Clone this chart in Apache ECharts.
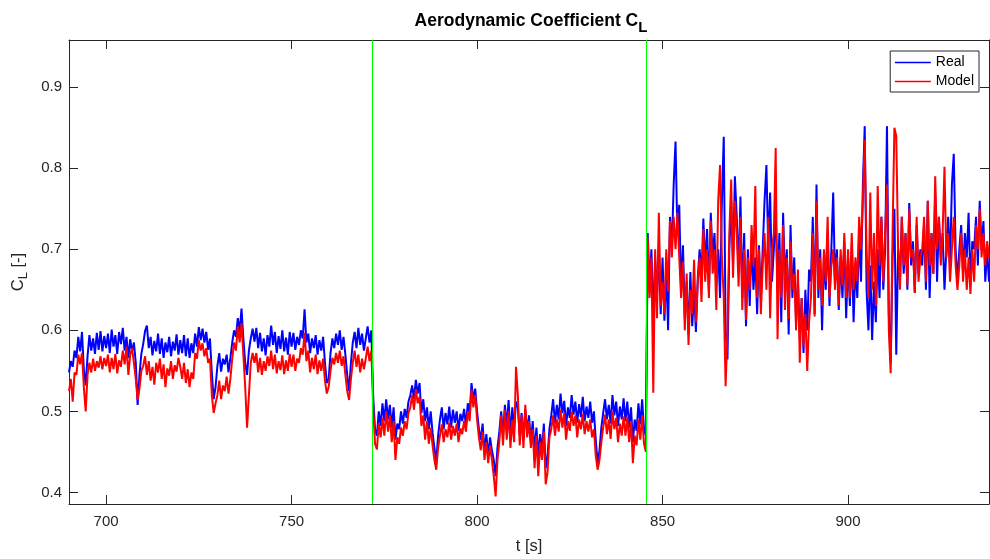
<!DOCTYPE html>
<html>
<head>
<meta charset="utf-8">
<title>Aerodynamic Coefficient CL</title>
<script src="https://cdn.jsdelivr.net/npm/echarts@6/dist/echarts.min.js"></script>
<style>
  html, body { margin: 0; padding: 0; background: #ffffff; }
  #chart { width: 990px; height: 559px; }
</style>
</head>
<body>
<div id="chart"></div>
<script>
  // samples every 0.5 s, starting at t = 690 s
  var tStart = 690
  var tStep = 0.5

  var realVals = [
    0.548,0.562,0.555,0.575,0.566,0.592,0.574,0.598,0.552,0.532,0.568,0.594,0.575,0.590,0.571,0.597,0.576,0.599,0.574,0.593,
    0.578,0.596,0.572,0.601,0.580,0.594,0.571,0.598,0.583,0.603,0.575,0.592,0.566,0.589,0.574,0.585,0.560,0.508,0.545,0.571,
    0.583,0.599,0.606,0.578,0.592,0.569,0.587,0.574,0.596,0.571,0.590,0.566,0.585,0.573,0.592,0.568,0.586,0.575,0.595,0.570,
    0.588,0.572,0.594,0.568,0.590,0.566,0.584,0.572,0.596,0.580,0.604,0.588,0.602,0.585,0.598,0.576,0.590,0.548,0.515,0.530,
    0.556,0.572,0.549,0.565,0.558,0.570,0.548,0.566,0.585,0.600,0.592,0.615,0.598,0.627,0.590,0.560,0.545,0.575,0.590,0.602,
    0.586,0.603,0.578,0.597,0.574,0.590,0.569,0.594,0.580,0.606,0.582,0.598,0.572,0.593,0.577,0.600,0.574,0.591,0.570,0.598,
    0.580,0.597,0.576,0.592,0.582,0.600,0.590,0.626,0.585,0.596,0.572,0.590,0.578,0.594,0.570,0.588,0.575,0.592,0.560,0.535,
    0.540,0.572,0.590,0.578,0.596,0.582,0.600,0.576,0.592,0.570,0.545,0.525,0.560,0.585,0.598,0.578,0.603,0.582,0.596,0.575,
    0.590,0.605,0.585,0.600,0.518,0.478,0.470,0.500,0.482,0.510,0.488,0.515,0.490,0.508,0.480,0.505,0.465,0.485,0.478,0.500,
    0.485,0.503,0.492,0.512,0.520,0.532,0.515,0.539,0.522,0.535,0.498,0.515,0.488,0.505,0.478,0.500,0.474,0.455,0.438,0.470,
    0.490,0.505,0.478,0.498,0.484,0.506,0.480,0.502,0.486,0.500,0.476,0.497,0.488,0.503,0.482,0.510,0.498,0.535,0.515,0.528,
    0.500,0.478,0.465,0.485,0.450,0.472,0.445,0.468,0.452,0.440,0.420,0.455,0.475,0.500,0.470,0.508,0.482,0.514,0.470,0.505,
    0.478,0.512,0.505,0.470,0.498,0.465,0.502,0.475,0.495,0.462,0.488,0.450,0.480,0.445,0.472,0.452,0.485,0.430,0.445,0.478,
    0.495,0.515,0.485,0.508,0.490,0.522,0.498,0.513,0.482,0.505,0.492,0.520,0.496,0.512,0.486,0.509,0.493,0.518,0.488,0.506,
    0.492,0.512,0.486,0.500,0.465,0.436,0.452,0.480,0.498,0.515,0.490,0.508,0.485,0.520,0.495,0.512,0.482,0.506,0.490,0.516,
    0.488,0.512,0.480,0.505,0.462,0.490,0.476,0.510,0.484,0.515,0.478,0.470,0.720,0.655,0.700,0.610,0.690,0.640,0.705,0.620,
    0.690,0.612,0.675,0.600,0.740,0.700,0.780,0.833,0.720,0.755,0.650,0.705,0.615,0.660,0.595,0.672,0.605,0.648,0.598,0.665,
    0.700,0.665,0.738,0.680,0.725,0.650,0.745,0.690,0.720,0.655,0.700,0.640,0.760,0.839,0.600,0.564,0.700,0.760,0.680,0.790,
    0.740,0.670,0.765,0.640,0.720,0.605,0.700,0.630,0.712,0.650,0.690,0.620,0.705,0.640,0.700,0.760,0.804,0.700,0.770,0.660,
    0.700,0.750,0.650,0.720,0.610,0.745,0.660,0.700,0.595,0.730,0.640,0.690,0.610,0.660,0.590,0.640,0.572,0.650,0.600,0.675,
    0.660,0.740,0.620,0.780,0.640,0.700,0.600,0.690,0.650,0.720,0.630,0.700,0.770,0.660,0.700,0.625,0.690,0.640,0.710,0.615,
    0.690,0.630,0.705,0.610,0.680,0.640,0.720,0.660,0.780,0.852,0.650,0.600,0.680,0.588,0.660,0.610,0.700,0.640,0.740,0.650,
    0.700,0.852,0.620,0.560,0.690,0.750,0.570,0.700,0.660,0.740,0.670,0.720,0.650,0.757,0.680,0.710,0.646,0.730,0.670,0.700,
    0.680,0.730,0.650,0.760,0.640,0.720,0.670,0.770,0.660,0.740,0.690,0.720,0.650,0.700,0.740,0.680,0.780,0.818,0.700,0.660,
    0.700,0.730,0.670,0.720,0.690,0.745,0.660,0.710,0.700,0.740,0.680,0.760,0.700,0.735,0.660,0.700,0.660
  ]

  var modelVals = [
    0.525,0.540,0.512,0.548,0.545,0.570,0.558,0.572,0.530,0.500,0.545,0.560,0.548,0.565,0.550,0.562,0.554,0.568,0.552,0.566,
    0.556,0.570,0.548,0.566,0.552,0.571,0.547,0.563,0.555,0.575,0.558,0.580,0.545,0.570,0.578,0.560,0.540,0.514,0.528,0.550,
    0.556,0.568,0.545,0.562,0.538,0.555,0.533,0.560,0.548,0.565,0.540,0.558,0.530,0.553,0.544,0.562,0.540,0.557,0.549,0.566,
    0.555,0.540,0.560,0.535,0.552,0.530,0.548,0.540,0.572,0.565,0.588,0.575,0.584,0.568,0.578,0.560,0.565,0.520,0.498,0.510,
    0.520,0.538,0.515,0.532,0.525,0.543,0.522,0.540,0.565,0.585,0.575,0.605,0.585,0.609,0.570,0.530,0.480,0.520,0.560,0.572,
    0.560,0.572,0.548,0.566,0.545,0.562,0.550,0.568,0.556,0.575,0.552,0.570,0.547,0.562,0.551,0.569,0.546,0.563,0.550,0.571,
    0.555,0.570,0.550,0.565,0.560,0.578,0.570,0.597,0.562,0.575,0.548,0.566,0.552,0.570,0.546,0.563,0.550,0.565,0.538,0.522,
    0.530,0.550,0.566,0.558,0.572,0.560,0.575,0.556,0.568,0.545,0.525,0.514,0.540,0.560,0.575,0.555,0.570,0.548,0.565,0.552,
    0.565,0.580,0.562,0.575,0.506,0.460,0.453,0.485,0.468,0.492,0.470,0.500,0.475,0.495,0.462,0.488,0.440,0.468,0.460,0.480,
    0.470,0.488,0.478,0.498,0.505,0.520,0.502,0.527,0.510,0.518,0.482,0.495,0.465,0.488,0.460,0.480,0.458,0.440,0.428,0.455,
    0.470,0.484,0.462,0.478,0.468,0.486,0.465,0.482,0.470,0.485,0.462,0.479,0.472,0.488,0.475,0.500,0.488,0.527,0.505,0.520,
    0.490,0.468,0.452,0.475,0.440,0.462,0.436,0.458,0.440,0.420,0.395,0.440,0.462,0.495,0.458,0.502,0.465,0.500,0.455,0.490,
    0.462,0.555,0.520,0.458,0.495,0.455,0.508,0.468,0.488,0.455,0.478,0.430,0.470,0.420,0.462,0.440,0.475,0.410,0.425,0.468,
    0.478,0.495,0.470,0.490,0.475,0.502,0.480,0.498,0.465,0.488,0.476,0.500,0.482,0.495,0.468,0.490,0.478,0.497,0.472,0.488,
    0.475,0.490,0.468,0.478,0.445,0.428,0.440,0.462,0.480,0.496,0.472,0.490,0.466,0.500,0.478,0.492,0.462,0.485,0.470,0.494,
    0.470,0.492,0.462,0.488,0.436,0.470,0.458,0.490,0.465,0.495,0.460,0.450,0.715,0.640,0.690,0.523,0.700,0.615,0.745,0.630,
    0.660,0.620,0.700,0.648,0.735,0.690,0.740,0.700,0.745,0.690,0.640,0.685,0.600,0.670,0.582,0.650,0.620,0.687,0.610,0.660,
    0.690,0.635,0.725,0.660,0.700,0.640,0.735,0.670,0.700,0.625,0.760,0.804,0.690,0.640,0.531,0.600,0.720,0.786,0.665,0.760,
    0.720,0.654,0.740,0.625,0.700,0.613,0.690,0.650,0.730,0.680,0.778,0.640,0.700,0.620,0.680,0.720,0.650,0.740,0.615,0.700,
    0.720,0.825,0.589,0.700,0.640,0.730,0.625,0.690,0.614,0.710,0.650,0.670,0.600,0.675,0.560,0.640,0.580,0.620,0.550,0.610,
    0.640,0.720,0.617,0.760,0.650,0.690,0.630,0.700,0.660,0.740,0.640,0.680,0.700,0.650,0.690,0.630,0.700,0.655,0.720,0.640,
    0.700,0.640,0.720,0.650,0.690,0.660,0.740,0.700,0.760,0.835,0.700,0.640,0.770,0.650,0.720,0.630,0.778,0.680,0.740,0.660,
    0.720,0.780,0.600,0.547,0.720,0.850,0.840,0.700,0.650,0.740,0.680,0.720,0.655,0.750,0.690,0.700,0.646,0.740,0.660,0.690,
    0.700,0.740,0.660,0.760,0.680,0.720,0.670,0.790,0.700,0.740,0.680,0.720,0.802,0.690,0.720,0.660,0.700,0.740,0.680,0.650,
    0.680,0.720,0.660,0.700,0.650,0.690,0.645,0.700,0.660,0.730,0.700,0.750,0.690,0.720,0.680,0.710,0.690
  ]

  var xTicks = [700, 750, 800, 850, 900]
  var yTicks = [0.4, 0.5, 0.6, 0.7, 0.8, 0.9]
  var switchTimes = [771.7, 845.6]   // green lines

  var axisColor = '#262626'
  var font = '"Liberation Sans", Arial, Helvetica, sans-serif'

  function toPairs(vals) {
    return vals.map(function (v, i) { return [tStart + i * tStep, v] })
  }

  function xAxisOpt(pos, showLabel) {
    return {
      type: 'value',
      position: pos,
      min: 690,
      max: 938,
      splitLine: { show: false },
      axisLine: { show: true, onZero: false, lineStyle: { color: axisColor, width: 1 } },
      axisTick: { show: true, inside: true, length: 9, customValues: xTicks, lineStyle: { color: axisColor } },
      axisLabel: {
        show: showLabel, customValues: xTicks, margin: 10,
        fontSize: 15, color: axisColor, fontFamily: font
      }
    }
  }

  function yAxisOpt(pos, showLabel) {
    return {
      type: 'value',
      position: pos,
      min: 0.3857,
      max: 0.9583,
      splitLine: { show: false },
      axisLine: { show: true, onZero: false, lineStyle: { color: axisColor, width: 1 } },
      axisTick: { show: true, inside: true, length: 9, customValues: yTicks, lineStyle: { color: axisColor } },
      axisLabel: {
        show: showLabel, customValues: yTicks, margin: 7,
        fontSize: 15, color: axisColor, fontFamily: font
      }
    }
  }

  var xBottom = xAxisOpt('bottom', true)
  xBottom.name = 't [s]'
  xBottom.nameLocation = 'middle'
  xBottom.nameGap = 34
  xBottom.nameTextStyle = { fontSize: 16.5, color: axisColor, fontFamily: font }

  var yLeft = yAxisOpt('left', true)
  yLeft.name = '{a|C}{b|L}{a| [-]}'
  yLeft.nameLocation = 'middle'
  yLeft.nameRotate = 90
  yLeft.nameGap = 33
  yLeft.nameTextStyle = {
    color: axisColor,
    fontFamily: font,
    rich: {
      a: { fontSize: 16.5, color: axisColor, fontFamily: font, lineHeight: 20, verticalAlign: 'top' },
      b: { fontSize: 13, color: axisColor, fontFamily: font, lineHeight: 20, verticalAlign: 'top', padding: [7, 0, 0, 0] }
    }
  }

  var chart = echarts.init(document.getElementById('chart'))
  chart.setOption({
    animation: false,
    backgroundColor: '#ffffff',
    title: {
      text: '{a|Aerodynamic Coefficient C}{b|L}',
      left: 526,
      top: 7,
      textAlign: 'center',
      textStyle: {
        rich: {
          a: { fontSize: 17.5, fontWeight: 'bold', color: '#000', fontFamily: font, lineHeight: 20, verticalAlign: 'top' },
          b: { fontSize: 15, fontWeight: 'bold', color: '#000', fontFamily: font, lineHeight: 20, verticalAlign: 'top', padding: [8, 0, 0, 0] }
        }
      }
    },
    legend: {
      data: ['Real', 'Model'],
      orient: 'vertical',
      right: 11,
      top: 51,
      itemWidth: 36,
      itemHeight: 14,
      itemGap: 4,
      itemStyle: { opacity: 0 },   // hide the marker, keep the line
      lineStyle: { width: 1.3 },
      padding: [4, 5, 3, 4],
      borderColor: axisColor,
      borderWidth: 1,
      backgroundColor: '#ffffff',
      textStyle: { fontSize: 14, color: '#000', fontFamily: font, lineHeight: 15 }
    },
    grid: { left: 69, right: 1, top: 40, bottom: 55, containLabel: false, outerBoundsMode: 'none' },
    xAxis: [xBottom, xAxisOpt('top', false)],
    yAxis: [yLeft, yAxisOpt('right', false)],
    series: [
      {
        name: 'Real',
        type: 'line',
        data: toPairs(realVals),
        showSymbol: false,
        symbol: 'none',
        color: '#0000ff',
        lineStyle: { color: '#0000ff', width: 2 },
        emphasis: { disabled: true }
      },
      {
        name: 'Model',
        type: 'line',
        data: toPairs(modelVals),
        showSymbol: false,
        symbol: 'none',
        color: '#ff0000',
        lineStyle: { color: '#ff0000', width: 2 },
        emphasis: { disabled: true },
        markLine: {
          silent: true,
          symbol: ['none', 'none'],
          label: { show: false },
          lineStyle: { color: '#00ff00', width: 1, type: 'solid' },
          data: switchTimes.map(function (t) { return { xAxis: t } })
        }
      }
    ]
  })
</script>
</body>
</html>
